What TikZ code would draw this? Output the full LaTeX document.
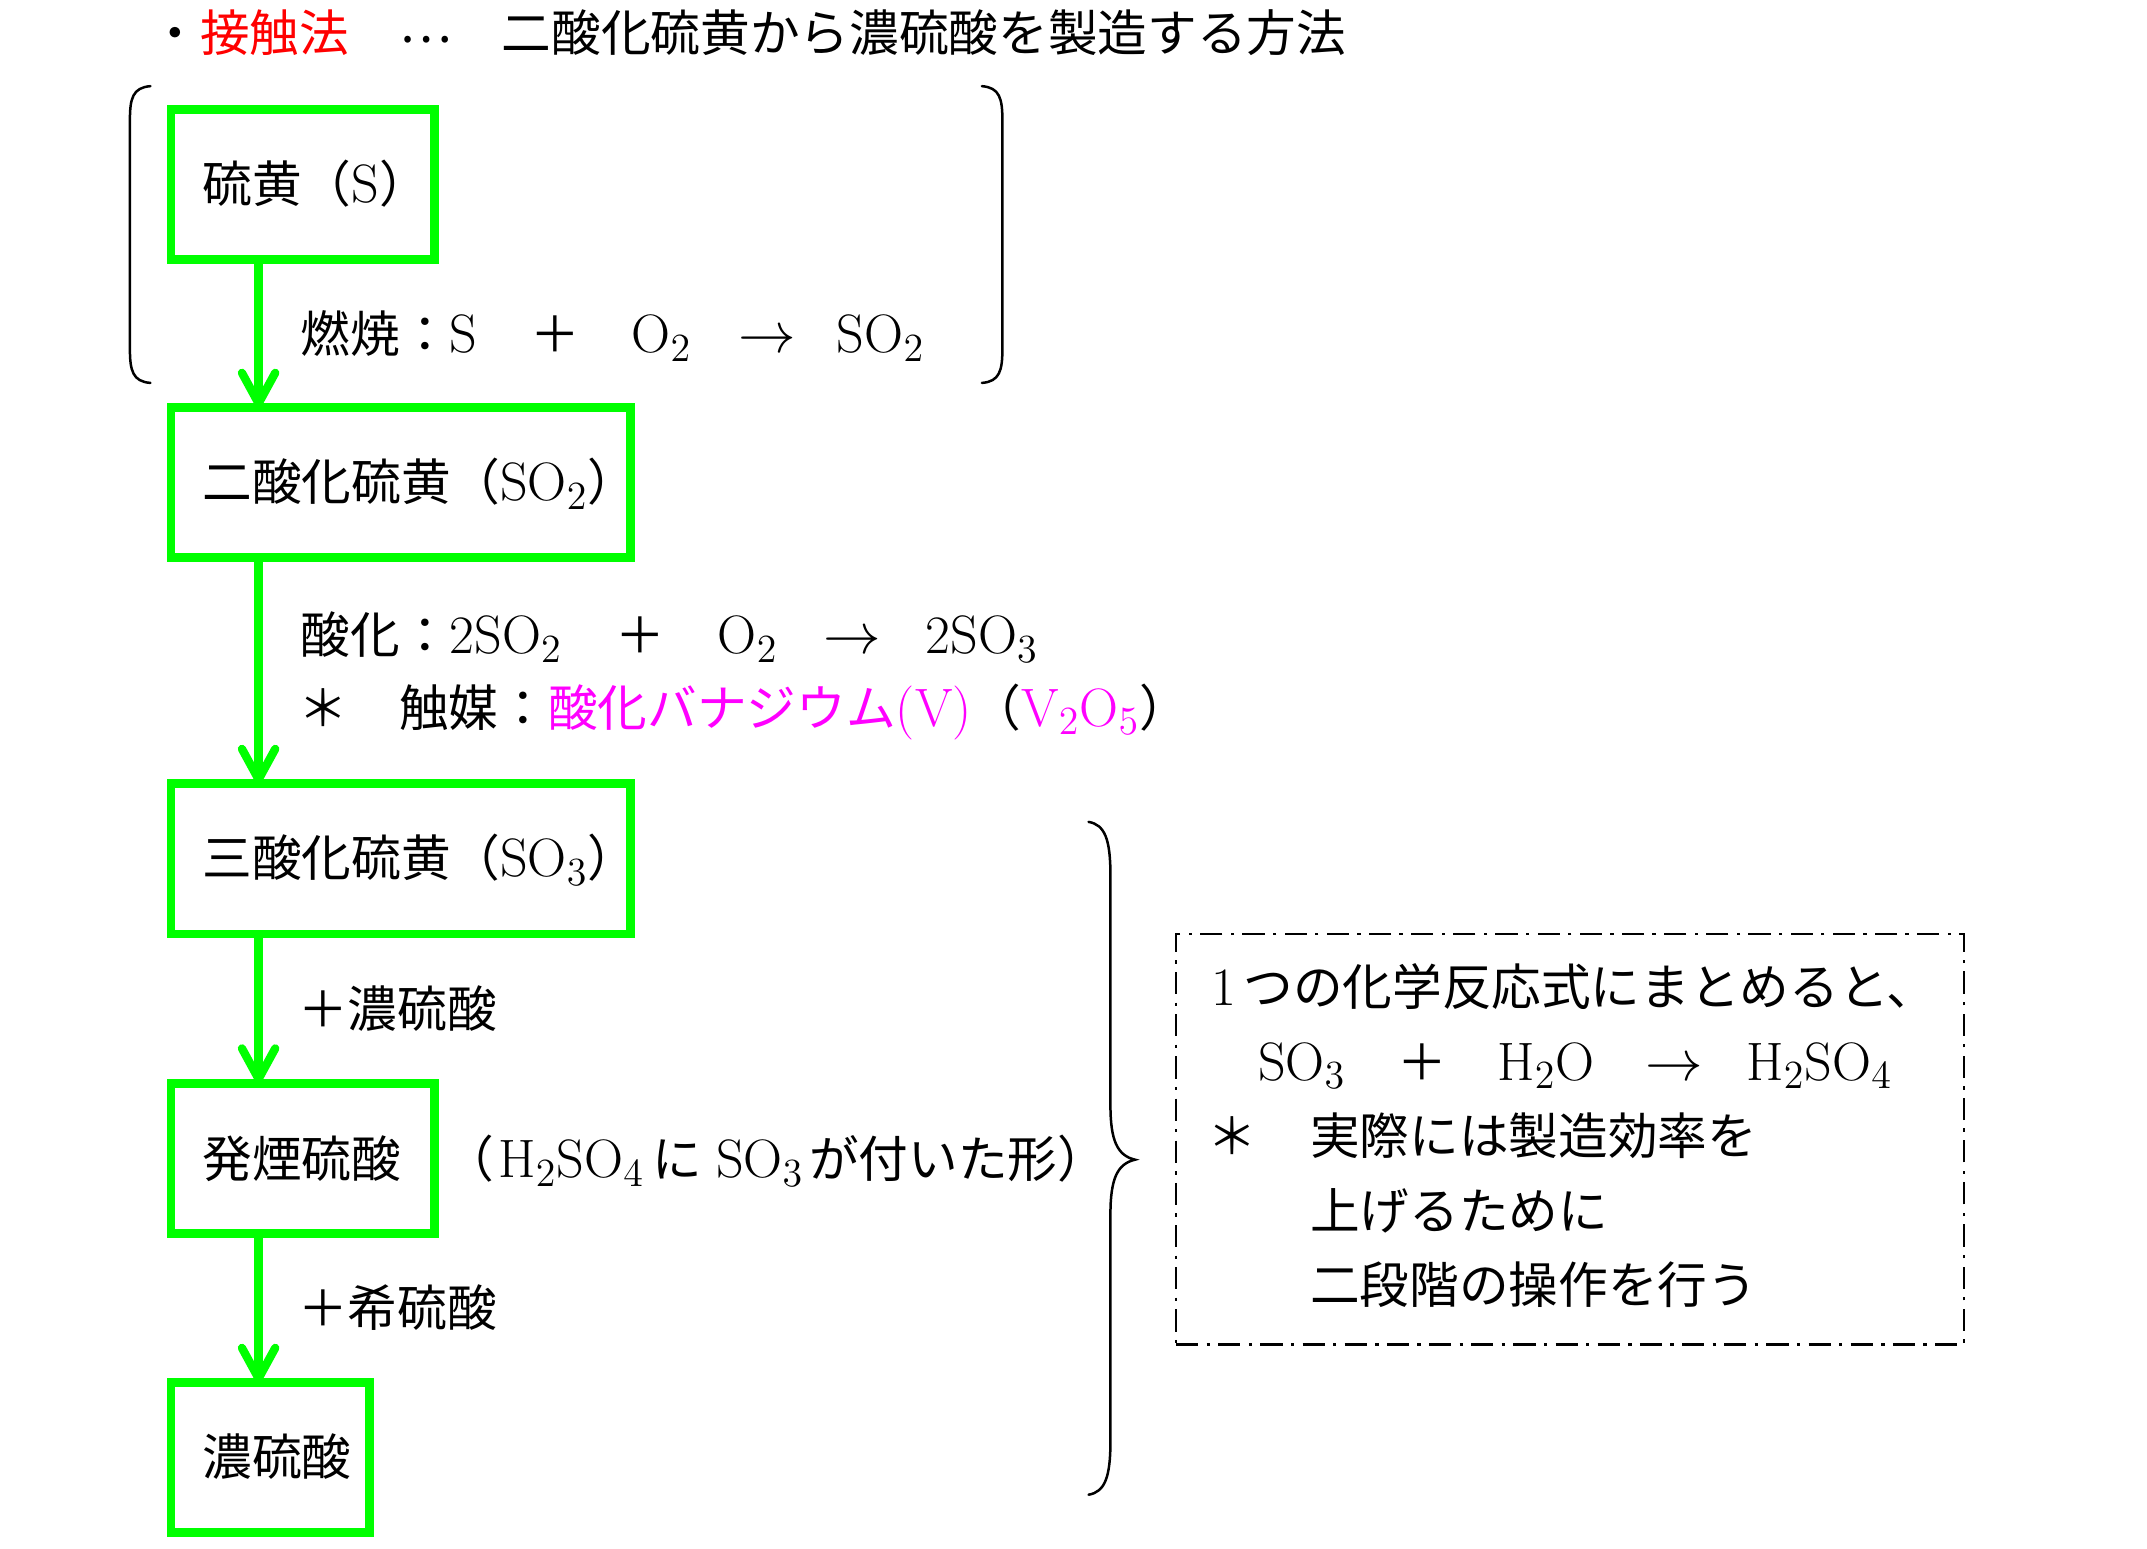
\documentclass[tikz,border=0pt]{standalone}
\usepackage{fontspec}
\usetikzlibrary{arrows.meta}
\newfontfamily\jp{Noto Sans CJK JP}[Scale=0.918]
\definecolor{grn}{RGB}{0,255,0}
\definecolor{mag}{RGB}{255,0,255}
\definecolor{rd}{RGB}{255,0,0}
\newcommand{\J}[1]{{\jp #1}}
\begin{document}
\begin{tikzpicture}[x=0.493pt,y=-0.493pt,
  every node/.style={inner sep=0pt, outer sep=0pt, font=\fontsize{19.5}{22}\selectfont},
  txt/.style={anchor=base west},
  stepbox/.style={draw=grn, line width=3.2pt, anchor=north west, inner sep=0pt, minimum height=54.2pt},
  flow/.style={draw=grn, line width=3pt, -{Straight Barb[length=11pt,width=12pt,round]}},
  brk/.style={draw=black, line width=0.9pt, line cap=round},
  sumbox/.style={draw=black, line width=0.9pt, dash pattern=on 8pt off 3pt on 1.2pt off 3pt, anchor=north west},
]
\fill[white] (0,0) rectangle (1570,1132);
\useasboundingbox (0,0) rectangle (1570,1132);

% title line
\node[txt] (title1) at (110,38) {\J{・\textcolor{rd}{接触法}}};
\node[txt] (title2) at (292,38) {\raisebox{3.5pt}{\J{…}}};
\node[txt] (title3) at (367,38) {\J{二酸化硫黄から濃硫酸を製造する方法}};

% boxes
\node[stepbox, minimum width=95.1pt] (b1) at (125,80) {};
\node[stepbox, minimum width=165.6pt] (b2) at (125,298) {};
\node[stepbox, minimum width=165.6pt] (b3) at (125,573) {};
\node[stepbox, minimum width=95.1pt] (b4) at (125,792) {};
\node[stepbox, minimum width=71.5pt] (b5) at (125,1011) {};

\node[txt] (t1) at (148,148) {\J{硫黄（}S\J{）}};
\node[txt] (t2) at (148,366) {\J{二酸化硫黄（}SO$_2$\J{）}};
\node[txt] (t3) at (148,641) {\J{三酸化硫黄（}SO$_3$\J{）}};
\node[txt] (t4) at (148,861) {\J{発煙硫酸}};
\node[txt] (t5) at (148,1079) {\J{濃硫酸}};

% arrows
\draw[flow] ([xshift=31.6pt]b1.south west) -- ([xshift=31.6pt]b2.north west);
\draw[flow] ([xshift=31.6pt]b2.south west) -- ([xshift=31.6pt]b3.north west);
\draw[flow] ([xshift=31.6pt]b3.south west) -- ([xshift=31.6pt]b4.north west);
\draw[flow] ([xshift=31.6pt]b4.south west) -- ([xshift=31.6pt]b5.north west);

% combustion
\node[txt] (c1) at (220,258) {\J{燃焼：}S};
\node[txt] (c2) at (388,258) {\J{＋}};
\node[txt] (c3) at (462,258) {O$_2$};
\node[txt] (c4) at (540,258) {$\rightarrow$};
\node[txt] (c5) at (612,258) {SO$_2$};

% oxidation
\node[txt] (o1) at (220,478) {\J{酸化：}2SO$_2$};
\node[txt] (o2) at (450,478) {\J{＋}};
\node[txt] (o3) at (525,478) {O$_2$};
\node[txt] (o4) at (602,478) {$\rightarrow$};
\node[txt] (o5) at (677,478) {2SO$_3$};
\node[txt] (k1) at (218,531) {\J{＊}};
\node[txt] (k2) at (292,531) {\J{触媒：\textcolor{mag}{酸化バナジウム}}\textcolor{mag}{(V)}\J{（}\textcolor{mag}{V$_2$O$_5$}\J{）}};

% other labels
\node[txt] (a1) at (218,751) {\J{＋濃硫酸}};
\node[txt] (a2) at (218,970) {\J{＋希硫酸}};
\node[txt] (f1) at (325,861) {\J{（}\hspace{1.5pt}H$_2$SO$_4$\hspace{3pt}\J{に}\hspace{5pt}SO$_3$\hspace{2pt}\J{が付いた形）}};

% brackets
\draw[brk] (110,63) .. controls (97,64) and (95,72) .. (95,88) -- (95,255) .. controls (95,271) and (97,279) .. (110,280);
\draw[brk] (718,63) .. controls (731,64) and (733,72) .. (733,88) -- (733,255) .. controls (733,271) and (731,279) .. (718,280);

% brace
\draw[brk] (796,601) .. controls (808,603) and (812,614) .. (812,640) -- (812,808) .. controls (812,834) and (817,845) .. (830,848)
  .. controls (817,851) and (812,862) .. (812,888) -- (812,1054) .. controls (812,1080) and (808,1091) .. (796,1093);

% summary box
\node[sumbox, minimum width=284pt, minimum height=147.9pt] (sum) at (860,683) {};
\node[txt] (s1) at (886,735) {1\hspace{2.5pt}\J{つの化学反応式にまとめると、}};
\node[txt] (s2a) at (920,790) {SO$_3$};
\node[txt] (s2b) at (1022,790) {\J{＋}};
\node[txt] (s2c) at (1095,790) {H$_2$O};
\node[txt] (s2d) at (1203,790) {$\rightarrow$};
\node[txt] (s2e) at (1277,790) {H$_2$SO$_4$};
\node[txt] (s3a) at (883,844) {\J{＊}};
\node[txt] (s3b) at (958,844) {\J{実際には製造効率を}};
\node[txt] (s4) at (958,899) {\J{上げるために}};
\node[txt] (s5) at (958,953) {\J{二段階の操作を行う}};
\end{tikzpicture}
\end{document}
